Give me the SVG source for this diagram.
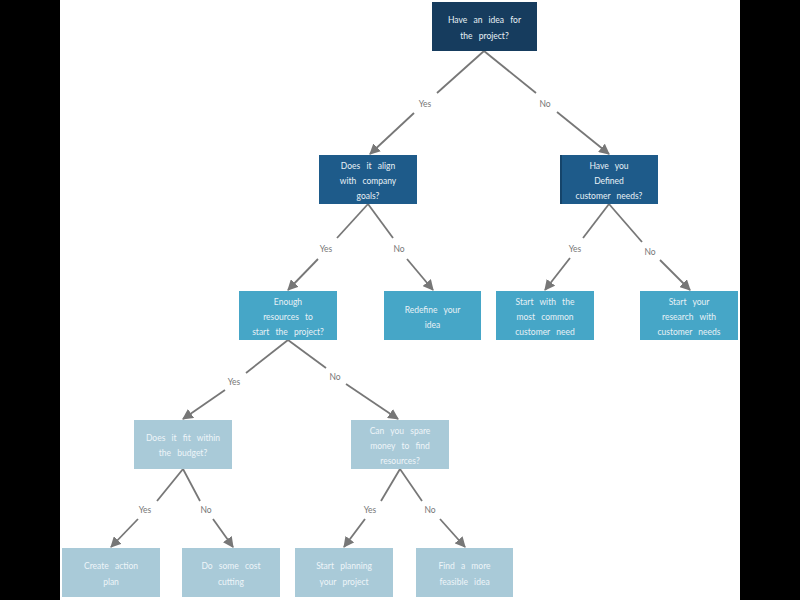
<svg xmlns="http://www.w3.org/2000/svg" width="800" height="600" viewBox="0 0 800 600">
<defs>
<marker id="ah" viewBox="0 0 10 10" refX="9" refY="5" markerWidth="6" markerHeight="6" orient="auto" markerUnits="strokeWidth">
<path d="M0,0 L10,5 L0,10 z" fill="#777"/>
</marker>
<style>
.l1{fill:#163c5e}
.l2{fill:#1e5b8a}
.l3{fill:#46a6c7}
.l4{fill:#a9cad8}
.t{font-family:"Lato","Open Sans",sans-serif;font-size:8.5px;fill:#e8f1f6;text-anchor:middle;word-spacing:4px}
.t4{fill:#eef5f8}
.e{stroke:#777;stroke-width:1.8;fill:none}
.a{marker-end:url(#ah)}
.lb{font-family:"Lato","Open Sans",sans-serif;font-size:8.5px;fill:#777;text-anchor:middle}
</style>
</defs>
<rect x="0" y="0" width="800" height="600" fill="#000"/>
<rect x="60" y="0" width="680" height="600" fill="#fff"/>

<g id="connectors">
<path class="e" d="M484,51 L437,93"/><path class="e a" d="M414,113 L370,154"/>
<path class="e" d="M484,51 L536,93"/><path class="e a" d="M557,112 L609,154"/>
<path class="e" d="M368,204 L337,238"/><path class="e a" d="M318,259 L288,290"/>
<path class="e" d="M368,204 L393,238"/><path class="e a" d="M407,259 L433,290"/>
<path class="e" d="M609,204 L583,238"/><path class="e a" d="M570,258 L545,290"/>
<path class="e" d="M609,204 L642,242"/><path class="e a" d="M660,260 L690,290"/>
<path class="e" d="M288,340 L246,373"/><path class="e a" d="M225,390 L183,419"/>
<path class="e" d="M288,340 L326,368"/><path class="e a" d="M346,384 L398,419"/>
<path class="e" d="M183,469 L157,501"/><path class="e a" d="M138,519 L111,547"/>
<path class="e" d="M183,469 L200,501"/><path class="e a" d="M213,519 L233,547"/>
<path class="e" d="M400,469 L381,501"/><path class="e a" d="M365,519 L344,547"/>
<path class="e" d="M400,469 L422,501"/><path class="e a" d="M440,519 L465,547"/>
<text class="lb" x="425" y="107">Yes</text>
<text class="lb" x="545" y="107">No</text>
<text class="lb" x="326" y="252">Yes</text>
<text class="lb" x="399" y="252">No</text>
<text class="lb" x="575" y="252">Yes</text>
<text class="lb" x="650" y="255">No</text>
<text class="lb" x="234" y="385">Yes</text>
<text class="lb" x="335" y="380">No</text>
<text class="lb" x="145" y="513">Yes</text>
<text class="lb" x="206" y="513">No</text>
<text class="lb" x="370" y="513">Yes</text>
<text class="lb" x="430" y="513">No</text>
</g>

<g id="n1"><rect class="l1" x="432" y="2" width="105" height="49"/>
<text class="t" x="484.5" y="23">Have  an idea for</text><text class="t" x="484.5" y="39">the project?</text></g>

<g id="n2"><rect class="l2" x="319" y="155" width="98" height="49"/>
<text class="t" x="368" y="169">Does it align</text><text class="t" x="368" y="184">with company</text><text class="t" x="368" y="199">goals?</text></g>

<g id="n3"><rect class="l2" x="560" y="155" width="98" height="49"/><rect x="560" y="155" width="2" height="49" fill="#15446a"/>
<text class="t" x="609" y="169">Have you</text><text class="t" x="609" y="184">Defined</text><text class="t" x="609" y="199">customer  needs?</text></g>

<g id="n4"><rect class="l3" x="239" y="291" width="98" height="49"/>
<text class="t" x="288" y="305">Enough</text><text class="t" x="288" y="320">resources  to</text><text class="t" x="288" y="335">start the project?</text></g>

<g id="n5"><rect class="l3" x="384" y="291" width="97" height="49"/>
<text class="t" x="432.5" y="313">Redefine  your</text><text class="t" x="432.5" y="328">idea</text></g>

<g id="n6"><rect class="l3" x="496" y="291" width="98" height="49"/>
<text class="t" x="545" y="305">Start with the</text><text class="t" x="545" y="320">most common</text><text class="t" x="545" y="335">customer  need</text></g>

<g id="n7"><rect class="l3" x="640" y="291" width="98" height="49"/>
<text class="t" x="689" y="305">Start  your</text><text class="t" x="689" y="320">research  with</text><text class="t" x="689" y="335">customer  needs</text></g>

<g id="n8"><rect class="l4" x="134" y="420" width="98" height="49"/>
<text class="t t4" x="183" y="441">Does it fit within</text><text class="t t4" x="183" y="456">the budget?</text></g>

<g id="n9"><rect class="l4" x="351" y="420" width="98" height="49"/>
<text class="t t4" x="400" y="434">Can you spare</text><text class="t t4" x="400" y="449">money to find</text><text class="t t4" x="400" y="464">resources?</text></g>

<g id="n10"><rect class="l4" x="62" y="548" width="98" height="49"/>
<text class="t t4" x="111" y="569">Create  action</text><text class="t t4" x="111" y="585">plan</text></g>

<g id="n11"><rect class="l4" x="182" y="548" width="98" height="49"/>
<text class="t t4" x="231" y="569">Do some cost</text><text class="t t4" x="231" y="585">cutting</text></g>

<g id="n12"><rect class="l4" x="295" y="548" width="98" height="49"/>
<text class="t t4" x="344" y="569">Start  planning</text><text class="t t4" x="344" y="585">your project</text></g>

<g id="n13"><rect class="l4" x="416" y="548" width="97" height="49"/>
<text class="t t4" x="464.5" y="569">Find a more</text><text class="t t4" x="464.5" y="585">feasible  idea</text></g>
</svg>
